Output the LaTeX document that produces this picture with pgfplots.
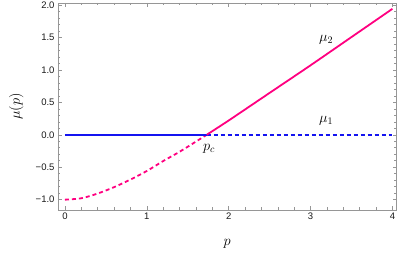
\documentclass[border=0pt]{standalone}
\usepackage{fontspec}
\setsansfont{Liberation Sans}
\usepackage{pgfplots}
\pgfplotsset{compat=1.18}
\usetikzlibrary{calc}
\definecolor{mag}{RGB}{255,0,128}
\definecolor{bl}{RGB}{20,20,240}
\definecolor{fr}{RGB}{150,150,150}
\begin{document}
\begin{tikzpicture}
\begin{axis}[
  scale only axis, width=338.5pt, height=207pt,
  xmin=-0.085, xmax=4.05, ymin=-1.159, ymax=2.03,
  axis line style={fr, line width=0.6pt},
  xtick={0,1,2,3,4}, xticklabels={0,1,2,3,4},
  ytick={-1,-0.5,0,0.5,1,1.5,2},
  yticklabels={−1.0,−0.5,0.0,0.5,1.0,1.5,2.0},
  minor x tick num=4, minor y tick num=4,
  tick align=inside,
  major tick length=4pt, minor tick length=2.5pt,
  every tick/.style={fr, line width=0.5pt},
  tick label style={font=\fontsize{9.5}{11}\sffamily, text=black!90},
  xticklabel style={yshift=1pt},
  xlabel={$p$}, ylabel={$\mu(p)$},
  xlabel style={at={(axis description cs:0.5,-0.165)}, anchor=center, font=\fontsize{15}{18}\selectfont},
  ylabel style={at={(axis description cs:-0.123,0.5)}, anchor=center, font=\fontsize{15}{18}\selectfont},
]
\addplot[mag, line width=1.8pt, dash pattern=on 4pt off 3pt, smooth] coordinates {
  (0,-1.00) (0.2,-0.978) (0.4,-0.905) (0.6,-0.807) (0.8,-0.690) (1.0,-0.558)
  (1.2,-0.405) (1.4,-0.262) (1.6,-0.105) (1.732,0.0)};
\addplot[bl, line width=1.8pt] coordinates {(0,0) (1.732,0)};
\addplot[bl, line width=1.5pt, dash pattern=on 4pt off 3pt] coordinates {(1.732,0) (4,0)};
\addplot[mag, line width=1.8pt, smooth] coordinates {
  (1.732,0.0) (2.0,0.22) (2.5,0.645) (3.0,1.07) (3.5,1.505) (4.0,1.94)};
\node[font=\fontsize{14}{16}\selectfont] at (axis cs:3.19,1.46) {$\mu_2$};
\node[font=\fontsize{14}{16}\selectfont] at (axis cs:3.19,0.21) {$\mu_1$};
\node[font=\fontsize{14}{16}\selectfont] at (axis cs:1.76,-0.22) {$p_c$};
\coordinate (sw) at (rel axis cs:0,0);
\coordinate (ne) at (rel axis cs:1,1);
\end{axis}
\pgfresetboundingbox
\path[use as bounding box] ($(sw)+(-58pt,-49pt)$) rectangle ($(ne)+(2.5pt,3pt)$);
\end{tikzpicture}
\end{document}
